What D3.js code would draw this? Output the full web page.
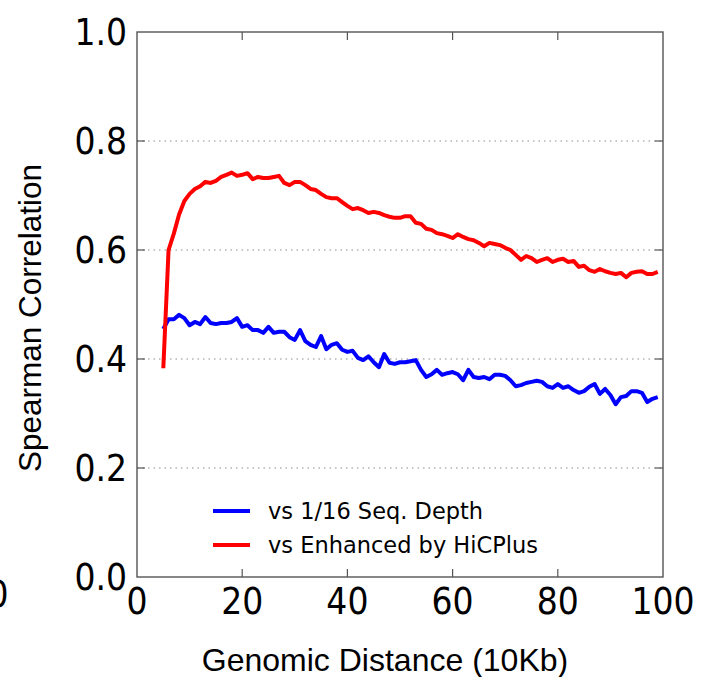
<!DOCTYPE html>
<html>
<head>
<meta charset="UTF-8">
<title>Spearman Correlation vs Genomic Distance</title>
<style>
  body { margin: 0; background: #fff; }
  svg { display: block; }
</style>
</head>
<body>
<svg width="701" height="677"></svg>
<script src="https://d3js.org/d3.v7.min.js"></script>
<script>
// data (x = genomic distance in 10Kb, 5..99)
const distance = d3.range(5, 100);
const lowDepth = [
  0.455, 0.473, 0.473, 0.481, 0.475, 0.462, 0.468, 0.464, 0.477, 0.466,
  0.464, 0.466, 0.466, 0.468, 0.475, 0.459, 0.462, 0.453, 0.453, 0.448,
  0.459, 0.448, 0.450, 0.450, 0.440, 0.435, 0.453, 0.433, 0.426, 0.422,
  0.442, 0.418, 0.426, 0.429, 0.417, 0.413, 0.415, 0.402, 0.398, 0.405,
  0.394, 0.385, 0.409, 0.393, 0.391, 0.394, 0.394, 0.396, 0.398, 0.380,
  0.367, 0.372, 0.380, 0.371, 0.374, 0.376, 0.372, 0.361, 0.380, 0.367,
  0.365, 0.367, 0.363, 0.371, 0.371, 0.369, 0.361, 0.350, 0.352, 0.356,
  0.358, 0.360, 0.358, 0.350, 0.347, 0.354, 0.347, 0.350, 0.343, 0.338,
  0.341, 0.349, 0.354, 0.336, 0.345, 0.334, 0.317, 0.330, 0.332, 0.341,
  0.341, 0.338, 0.321, 0.327, 0.330
];
const enhanced = [
  0.383, 0.600, 0.630, 0.665, 0.690, 0.703, 0.712, 0.717, 0.725, 0.723,
  0.727, 0.734, 0.738, 0.742, 0.736, 0.738, 0.741, 0.730, 0.734, 0.732,
  0.732, 0.734, 0.736, 0.723, 0.719, 0.725, 0.725, 0.719, 0.712, 0.710,
  0.703, 0.697, 0.695, 0.695, 0.688, 0.681, 0.675, 0.677, 0.673, 0.668,
  0.670, 0.668, 0.664, 0.661, 0.659, 0.659, 0.662, 0.662, 0.650, 0.648,
  0.639, 0.637, 0.631, 0.629, 0.626, 0.622, 0.629, 0.624, 0.620, 0.618,
  0.613, 0.607, 0.613, 0.611, 0.609, 0.604, 0.600, 0.591, 0.582, 0.589,
  0.585, 0.578, 0.582, 0.585, 0.578, 0.582, 0.584, 0.578, 0.580, 0.569,
  0.571, 0.563, 0.560, 0.565, 0.561, 0.558, 0.556, 0.558, 0.550, 0.558,
  0.560, 0.561, 0.556, 0.556, 0.560
];
const seriesNames = ["vs 1/16 Seq. Depth", "vs Enhanced by HiCPlus"];
const seriesColors = ["#0000ff", "#ff0000"];
const xTicks = [0, 20, 40, 60, 80, 100];
const yTicks = [0.0, 0.2, 0.4, 0.6, 0.8, 1.0];

const svg = d3.select("svg");
const m = { left: 137, right: 663, top: 32, bottom: 577 };

const x = d3.scaleLinear().domain([0, 100]).range([m.left, m.right]);
const y = d3.scaleLinear().domain([0, 1]).range([m.bottom, m.top]);

const tickFont = "DejaVu Sans, sans-serif";
const squeeze = 0.87; // the figure's text looks slightly narrowed

// dotted grid (horizontal only)
svg.append("g")
  .selectAll("line")
  .data(yTicks.filter(d => d > 0 && d < 1))
  .join("line")
  .attr("x1", m.left).attr("x2", m.right)
  .attr("y1", d => y(d)).attr("y2", d => y(d))
  .attr("stroke", "#8c8c8c")
  .attr("stroke-width", 1)
  .attr("stroke-dasharray", "1.5,4");

// series lines
const line = d3.line().x((d, i) => x(distance[i])).y(d => y(d));
[lowDepth, enhanced].forEach((s, k) => {
  svg.append("path")
    .datum(s)
    .attr("d", line)
    .attr("fill", "none")
    .attr("stroke", seriesColors[k])
    .attr("stroke-width", 4)
    .attr("stroke-linejoin", "round");
});

// frame
svg.append("rect")
  .attr("x", m.left).attr("y", m.top)
  .attr("width", m.right - m.left).attr("height", m.bottom - m.top)
  .attr("fill", "none")
  .attr("stroke", "#555")
  .attr("stroke-width", 1.4);

// ticks, pointing inward on all four sides
const tl = 8;
const tg = svg.append("g").attr("stroke", "#555").attr("stroke-width", 1.2);
xTicks.slice(1, -1).forEach(t => {
  tg.append("line").attr("x1", x(t)).attr("x2", x(t)).attr("y1", m.bottom).attr("y2", m.bottom - tl);
  tg.append("line").attr("x1", x(t)).attr("x2", x(t)).attr("y1", m.top).attr("y2", m.top + tl);
});
yTicks.slice(1, -1).forEach(t => {
  tg.append("line").attr("x1", m.left).attr("x2", m.left + tl).attr("y1", y(t)).attr("y2", y(t));
  tg.append("line").attr("x1", m.right).attr("x2", m.right - tl).attr("y1", y(t)).attr("y2", y(t));
});

// tick labels
function label(px, py, txt, anchor, size, family) {
  svg.append("text")
    .attr("transform", `translate(${px},${py}) scale(${squeeze},1)`)
    .attr("text-anchor", anchor)
    .attr("dominant-baseline", "central")
    .attr("font-family", family)
    .attr("font-size", size)
    .attr("fill", "#000")
    .text(txt);
}
xTicks.forEach(t => label(x(t), m.bottom + 24, d3.format("d")(t), "middle", 38, tickFont));
yTicks.forEach(t => label(m.left - 10, y(t), d3.format(".1f")(t), "end", 38, tickFont));

// stray "0" from the neighbouring panel, cut by the left edge
label(-2, 594, "0", "middle", 38, tickFont);

// axis titles
svg.append("text")
  .attr("x", 385).attr("y", 660)
  .attr("text-anchor", "middle").attr("dominant-baseline", "central")
  .attr("font-family", "Liberation Sans, Arial, sans-serif")
  .attr("font-size", 32)
  .text("Genomic Distance (10Kb)");
svg.append("text")
  .attr("transform", "translate(30,318) rotate(-90)")
  .attr("text-anchor", "middle").attr("dominant-baseline", "central")
  .attr("font-family", "Liberation Sans, Arial, sans-serif")
  .attr("font-size", 31.5)
  .text("Spearman Correlation");

// legend (no frame)
const lg = svg.append("g").attr("transform", "translate(213,511)");
seriesNames.forEach((name, k) => {
  const row = lg.append("g").attr("transform", `translate(0,${k * 34})`);
  row.append("line")
    .attr("x1", 0).attr("x2", 37)
    .attr("stroke", seriesColors[k]).attr("stroke-width", 4);
  row.append("text")
    .attr("x", 55).attr("dominant-baseline", "central")
    .attr("font-family", tickFont).attr("font-size", 22.5)
    .text(name);
});
</script>
</body>
</html>
